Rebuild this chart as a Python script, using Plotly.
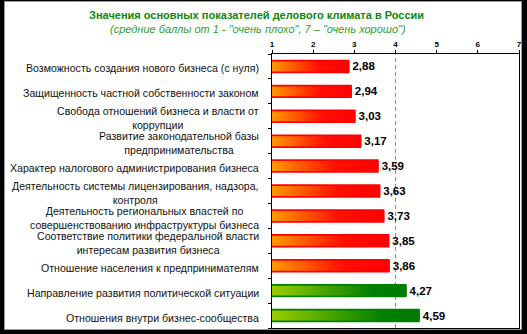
import plotly.graph_objects as go

# ---------------- data ----------------
categories = [
    "Возможность создания нового бизнеса (с нуля)",
    "Защищенность частной собственности законом",
    "Свобода отношений бизнеса и власти от<br>коррупции",
    "Развитие законодательной базы<br>предпринимательства",
    "Характер налогового администрирования бизнеса",
    "Деятельность системы лицензирования, надзора,<br>контроля",
    "Деятельность региональных властей по<br>совершенствованию инфраструктуры бизнеса",
    "Соответствие политики федеральной власти<br>интересам развития бизнеса",
    "Отношение населения к предпринимателям",
    "Направление развития политической ситуации",
    "Отношения внутри бизнес-сообщества",
]
values = [2.88, 2.94, 3.03, 3.17, 3.59, 3.63, 3.73, 3.85, 3.86, 4.27, 4.59]
scale_ticks = [1, 2, 3, 4, 5, 6, 7]
midpoint = 4

title_text = "Значения основных показателей делового климата в России"
subtitle_text = "(средние баллы от 1 - \"очень плохо\", 7 – \"очень хорошо\")"

# ---------------- styles ----------------
FONT = "Liberation Sans, Arial, sans-serif"
RED_EDGE = "#FF0000"
GREEN_EDGE = "#007F00"
RED_SCALE = [[0, "#FF9A00"], [0.6, "#FF1000"], [1, "#FF0000"]]
GREEN_SCALE = [[0, "#9ACD00"], [0.75, "#008000"], [1, "#007A00"]]

W, H = 527, 334
ML, MR, MT, MB = 272, 8, 54, 6
PW, PH = W - ML - MR, H - MT - MB

idx = list(range(len(categories)))
is_pos = [v > midpoint for v in values]

fig = go.Figure()

# base bars (edge colour, value labels)
fig.add_trace(go.Bar(
    y=idx, x=values, orientation="h", width=0.54,
    marker=dict(color=[GREEN_EDGE if p else RED_EDGE for p in is_pos], line=dict(width=0)),
    texttemplate="%{x:.2f}", textposition="outside", constraintext="none",
    textfont=dict(family=FONT, size=11.5, color="black", weight="bold"),
    hoverinfo="skip", showlegend=False,
))

# gradient overlays
HALF = 0.2
x0 = scale_ticks[0]
for i, v in enumerate(values):
    fig.add_trace(go.Scatter(
        x=[x0, v, v, x0, x0], y=[i - HALF, i - HALF, i + HALF, i + HALF, i - HALF],
        mode="none", fill="toself",
        fillgradient=dict(type="horizontal", colorscale=GREEN_SCALE if is_pos[i] else RED_SCALE),
        hoverinfo="skip", showlegend=False,
    ))

shapes = [
    # white panel with grey edge over black surround
    dict(type="rect", xref="paper", yref="paper",
         x0=(4.5 - ML) / PW, x1=(521.5 - ML) / PW,
         y0=(H - MB - 329.5) / PH, y1=(H - MB - 1.5) / PH,
         fillcolor="white", line=dict(color="#9a9a9a", width=1), layer="below"),
    dict(type="line", xref="x", yref="paper", x0=midpoint, x1=midpoint, y0=0, y1=1,
         line=dict(color="#FF5A5A", width=1, dash="4px,3px"), layer="below"),
]

annotations = []
for i, c in enumerate(categories):
    annotations.append(dict(
        text=c, x=x0, xref="x", xanchor="right", xshift=-11,
        y=i, yref="y", yanchor="middle", yshift=-2, align="center",
        showarrow=False, font=dict(family=FONT, size=10.6, color="#111111"),
    ))
annotations.append(dict(
    text="<b>" + title_text + "</b>", x=(256 - ML) / PW, xref="paper", xanchor="center",
    y=(H - MB - 15) / PH, yref="paper", yanchor="middle", showarrow=False,
    font=dict(family=FONT, size=11, color="#0A8A0A"),
))
annotations.append(dict(
    text="<i>" + subtitle_text + "</i>", x=(258 - ML) / PW, xref="paper", xanchor="center",
    y=(H - MB - 29) / PH, yref="paper", yanchor="middle", showarrow=False,
    font=dict(family=FONT, size=11, color="#2E9E2E"),
))

fig.update_layout(
    width=W, height=H,
    margin=dict(l=ML, r=MR, t=MT, b=MB),
    paper_bgcolor="black", plot_bgcolor="rgba(0,0,0,0)",
    separators=", ",
    shapes=shapes, annotations=annotations,
    bargap=0.46,
    xaxis=dict(
        range=[scale_ticks[0], scale_ticks[-1]], side="top",
        tickvals=scale_ticks, ticktext=[str(t) for t in scale_ticks],
        ticks="outside", ticklen=3, tickcolor="black",
        tickfont=dict(family=FONT, size=8, color="black", weight="bold"),
        showline=True, linecolor="black", linewidth=1, mirror=True,
        showgrid=False, zeroline=False, fixedrange=True,
    ),
    yaxis=dict(
        range=[len(categories) - 0.5, -0.5],
        tickvals=[k - 0.5 for k in range(len(categories) + 1)],
        showticklabels=False, ticks="outside", ticklen=3, tickcolor="black",
        showline=True, linecolor="black", linewidth=1, mirror=True,
        showgrid=False, zeroline=False, fixedrange=True,
    ),
)

fig.write_html("out.html")
